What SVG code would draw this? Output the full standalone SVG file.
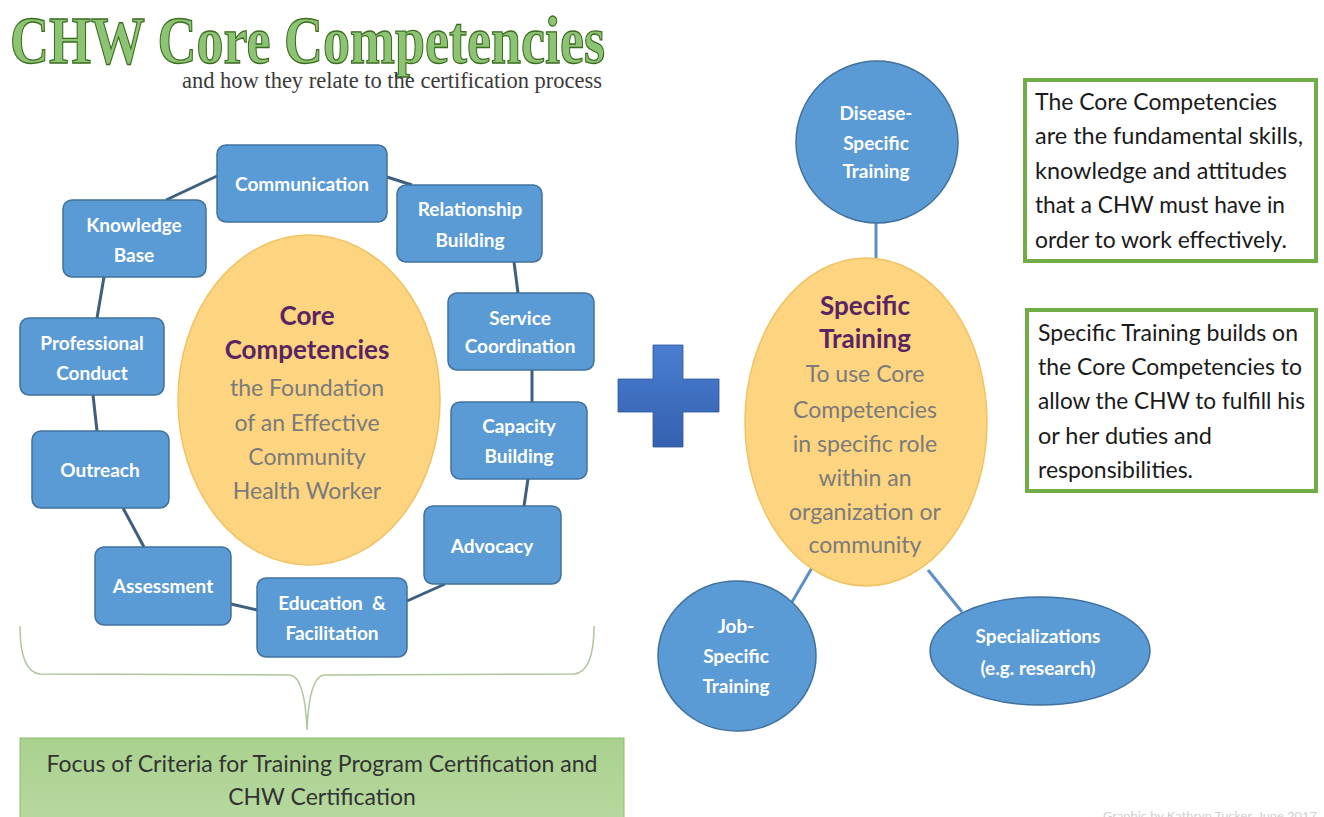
<svg xmlns="http://www.w3.org/2000/svg" width="1324" height="817" viewBox="0 0 1324 817">
<defs>
<style>
.box{fill:#5b9bd5;stroke:#41719c;stroke-width:1.5}
.bt{font-family:Lato,"Liberation Sans",sans-serif;font-weight:bold;font-size:19px;fill:#ffffff;text-anchor:middle}
.conn{stroke:#3f5f7f;stroke-width:3;fill:none}
.conn2{stroke:#5b8fc7;stroke-width:3;fill:none}
.oval{fill:#fdd47f;stroke:#f1c264;stroke-width:1.5}
.ph{font-family:Lato,"Liberation Sans",sans-serif;font-weight:bold;font-size:26px;fill:#5a2462;text-anchor:middle}
.gr{font-family:Lato,"Liberation Sans",sans-serif;font-size:23px;fill:#7b7b7b;text-anchor:middle}
.note{fill:#ffffff;stroke:#70ad47;stroke-width:4}
.nt{font-family:Lato,"Liberation Sans",sans-serif;font-size:22.5px;fill:#1a1a1a}
</style>
<linearGradient id="plusg" x1="0" y1="0" x2="0" y2="1">
<stop offset="0" stop-color="#4a7ed0"/><stop offset="1" stop-color="#3560b0"/>
</linearGradient>
<linearGradient id="greeng" x1="0" y1="0" x2="0" y2="1">
<stop offset="0" stop-color="#a9d18e"/><stop offset="1" stop-color="#b8d9a0"/>
</linearGradient>
</defs>
<rect width="1324" height="817" fill="#ffffff"/>

<g id="title">
<text x="10" y="63" font-family="'Liberation Serif',serif" font-weight="bold" font-size="68" fill="#8dc474" stroke="#3b6b1f" stroke-width="1.3" textLength="595" lengthAdjust="spacingAndGlyphs">CHW Core Competencies</text>
<text x="182" y="88" font-family="'Liberation Serif',serif" font-size="24" fill="#3a3a3a" textLength="420" lengthAdjust="spacingAndGlyphs">and how they relate to the certification process</text>
</g>

<g id="connectors">
<line class="conn" x1="217" y1="176" x2="166" y2="200"/>
<line class="conn" x1="387" y1="177" x2="412" y2="185"/>
<line class="conn" x1="514" y1="262" x2="518" y2="293"/>
<line class="conn" x1="532" y1="370" x2="532" y2="402"/>
<line class="conn" x1="528" y1="479" x2="524" y2="506"/>
<line class="conn" x1="445" y1="584" x2="407" y2="601"/>
<line class="conn" x1="257" y1="610" x2="231" y2="604"/>
<line class="conn" x1="144" y1="547" x2="123" y2="508"/>
<line class="conn" x1="97" y1="431" x2="93" y2="395"/>
<line class="conn" x1="97" y1="318" x2="104" y2="277"/>
<line class="conn2" x1="876" y1="223" x2="876" y2="258"/>
<line class="conn2" x1="813" y1="566" x2="792" y2="602"/>
<line class="conn2" x1="928" y1="570" x2="962" y2="612"/>
<path d="M20 626 Q20 672 40 674 L290 675 Q305 677 307 730 Q309 677 324 675 L574 674 Q594 672 594 626" fill="none" stroke="#b0c59a" stroke-width="1.5"/>
</g>

<g id="core">
<ellipse class="oval" cx="309" cy="400" rx="131" ry="165"/>
<text class="ph" x="307" y="325">Core</text>
<text class="ph" x="307" y="359">Competencies</text>
<text class="gr" x="307" y="396">the Foundation</text>
<text class="gr" x="307" y="431">of an Effective</text>
<text class="gr" x="307" y="465">Community</text>
<text class="gr" x="307" y="499">Health Worker</text>
</g>

<g id="communication"><rect class="box" x="217" y="145" width="170" height="77" rx="9"/><text class="bt" x="302" y="191">Communication</text></g>
<g id="relationship"><rect class="box" x="397" y="185" width="145" height="77" rx="9"/><text class="bt" x="470" y="216">Relationship</text><text class="bt" x="470" y="247">Building</text></g>
<g id="knowledge"><rect class="box" x="63" y="200" width="143" height="77" rx="9"/><text class="bt" x="134" y="232">Knowledge</text><text class="bt" x="134" y="262">Base</text></g>
<g id="service"><rect class="box" x="448" y="293" width="146" height="77" rx="9"/><text class="bt" x="520" y="325">Service</text><text class="bt" x="520" y="353">Coordination</text></g>
<g id="professional"><rect class="box" x="20" y="318" width="144" height="77" rx="9"/><text class="bt" x="92" y="350">Professional</text><text class="bt" x="92" y="380">Conduct</text></g>
<g id="capacity"><rect class="box" x="451" y="402" width="136" height="77" rx="9"/><text class="bt" x="519" y="433">Capacity</text><text class="bt" x="519" y="463">Building</text></g>
<g id="outreach"><rect class="box" x="32" y="431" width="137" height="77" rx="9"/><text class="bt" x="100" y="477">Outreach</text></g>
<g id="advocacy"><rect class="box" x="424" y="506" width="137" height="78" rx="9"/><text class="bt" x="492" y="553">Advocacy</text></g>
<g id="assessment"><rect class="box" x="95" y="547" width="136" height="78" rx="9"/><text class="bt" x="163" y="593">Assessment</text></g>
<g id="education"><rect class="box" x="257" y="578" width="150" height="79" rx="9"/><text class="bt" x="332" y="610" xml:space="preserve">Education  &amp;</text><text class="bt" x="332" y="640">Facilitation</text></g>

<g id="focus">
<rect x="20" y="738" width="604" height="90" fill="url(#greeng)" stroke="#8fbc72" stroke-width="1"/>
<text x="322" y="772" font-family="Lato,'Liberation Sans',sans-serif" font-size="23" fill="#333333" text-anchor="middle" textLength="551" lengthAdjust="spacingAndGlyphs">Focus of Criteria for Training Program Certification and</text>
<text x="322" y="805" font-family="Lato,'Liberation Sans',sans-serif" font-size="23" fill="#333333" text-anchor="middle">CHW Certification</text>
</g>

<g id="plus">
<path d="M653 345 H683 V379 H719 V412 H683 V447 H653 V412 H618 V379 H653 Z" fill="url(#plusg)" stroke="#2f5597" stroke-width="0.8"/>
</g>

<g id="disease"><circle class="box" cx="877" cy="142" r="81"/><text class="bt" x="876" y="120">Disease-</text><text class="bt" x="876" y="150">Specific</text><text class="bt" x="876" y="178">Training</text></g>

<g id="specific">
<ellipse class="oval" cx="866" cy="422" rx="121" ry="164"/>
<text class="ph" x="865" y="315">Specific</text>
<text class="ph" x="865" y="348">Training</text>
<text class="gr" x="865" y="382">To use Core</text>
<text class="gr" x="865" y="418">Competencies</text>
<text class="gr" x="865" y="452">in specific role</text>
<text class="gr" x="865" y="486">within an</text>
<text class="gr" x="865" y="520">organization or</text>
<text class="gr" x="865" y="553">community</text>
</g>

<g id="job"><ellipse class="box" cx="737" cy="656" rx="79" ry="75"/><text class="bt" x="736" y="633">Job-</text><text class="bt" x="736" y="663">Specific</text><text class="bt" x="736" y="693">Training</text></g>

<g id="specializations"><ellipse class="box" cx="1040" cy="651" rx="110" ry="54"/><text class="bt" x="1038" y="643">Specializations</text><text class="bt" x="1038" y="675">(e.g. research)</text></g>

<g id="note1">
<rect class="note" x="1025" y="80" width="291" height="181"/>
<text class="nt" x="1035" y="110" textLength="242" lengthAdjust="spacingAndGlyphs">The Core Competencies</text>
<text class="nt" x="1035" y="144" textLength="268" lengthAdjust="spacingAndGlyphs">are the fundamental skills,</text>
<text class="nt" x="1035" y="179" textLength="252" lengthAdjust="spacingAndGlyphs">knowledge and attitudes</text>
<text class="nt" x="1035" y="213" textLength="250" lengthAdjust="spacingAndGlyphs">that a CHW must have in</text>
<text class="nt" x="1035" y="248" textLength="252" lengthAdjust="spacingAndGlyphs">order to work effectively.</text>
</g>

<g id="note2">
<rect class="note" x="1027" y="310" width="289" height="181"/>
<text class="nt" x="1038" y="341" textLength="260" lengthAdjust="spacingAndGlyphs">Specific Training builds on</text>
<text class="nt" x="1038" y="375" textLength="264" lengthAdjust="spacingAndGlyphs">the Core Competencies to</text>
<text class="nt" x="1038" y="409" textLength="267" lengthAdjust="spacingAndGlyphs">allow the CHW to fulfill his</text>
<text class="nt" x="1038" y="444" textLength="174" lengthAdjust="spacingAndGlyphs">or her duties and</text>
<text class="nt" x="1038" y="478" textLength="155" lengthAdjust="spacingAndGlyphs">responsibilities.</text>
</g>

<g id="credit">
<text x="1103" y="820" font-family="Lato,'Liberation Sans',sans-serif" font-size="12" fill="#cfcfcf" textLength="214" lengthAdjust="spacingAndGlyphs">Graphic by Kathryn Tucker, June 2017</text>
</g>
</svg>
